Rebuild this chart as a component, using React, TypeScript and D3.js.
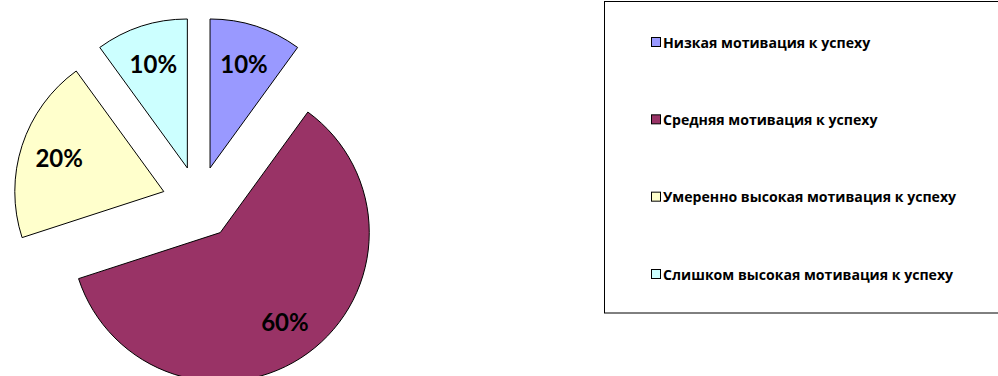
import React from 'react';
import * as d3 from 'd3';

const categories = [
  'Низкая мотивация к успеху',
  'Средняя мотивация к успеху',
  'Умеренно высокая мотивация к успеху',
  'Слишком высокая мотивация к успеху',
];
const values = [10, 60, 20, 10];
const colors = ['#9999FF', '#993366', '#FFFFCC', '#CCFFFF'];

const W = 998;
const H = 376;
const cx = 198.7;
const cy = 202.9;
const radius = 149;
const explode = 36.7;
const labelR = 110;

const App: React.FC = () => {
  const pie = d3.pie<number>().sort(null).startAngle(0).endAngle(2 * Math.PI);
  const arcs = pie(values);
  const arc = d3.arc<d3.PieArcDatum<number>>().innerRadius(0).outerRadius(radius);
  const total = d3.sum(values);

  // legend rows
  const legendY = d3.scalePoint<string>().domain(categories).range([42, 274]);

  return (
    <svg
      width={W}
      height={H}
      style={{ position: 'absolute', left: 0, top: 0, display: 'block', background: '#fff' }}
    >
      <g transform={`translate(${cx},${cy})`}>
        {arcs.map((a, i) => {
          const mid = (a.startAngle + a.endAngle) / 2;
          const dx = Math.sin(mid) * explode;
          const dy = -Math.cos(mid) * explode;
          const lx = Math.sin(mid) * labelR;
          const ly = -Math.cos(mid) * labelR;
          return (
            <g key={i} transform={`translate(${dx},${dy})`}>
              <path d={arc(a) || ''} fill={colors[i]} stroke="#000" strokeWidth={1} />
              <text
                x={lx}
                y={ly}
                textAnchor="middle"
                dominantBaseline="central"
                fontFamily="Lato, 'Open Sans', sans-serif"
                fontWeight="bold"
                fontSize={24}
                fill="#000"
              >
                {Math.round((values[i] / total) * 100)}%
              </text>
            </g>
          );
        })}
      </g>

      <rect x={604.5} y={1.5} width={420} height={311.5} fill="#fff" stroke="#000" strokeWidth={1} />
      {categories.map((c, i) => {
        const y = legendY(c) || 0;
        return (
          <g key={c}>
            <rect x={651.5} y={y - 4.5} width={9} height={9} fill={colors[i]} stroke="#000" strokeWidth={1} />
            <text
              x={663}
              y={y}
              dominantBaseline="central"
              fontFamily="'Open Sans', sans-serif"
              fontWeight="bold"
              fontSize={14.1}
              fill="#000"
            >
              {c}
            </text>
          </g>
        );
      })}
    </svg>
  );
};

export default App;
